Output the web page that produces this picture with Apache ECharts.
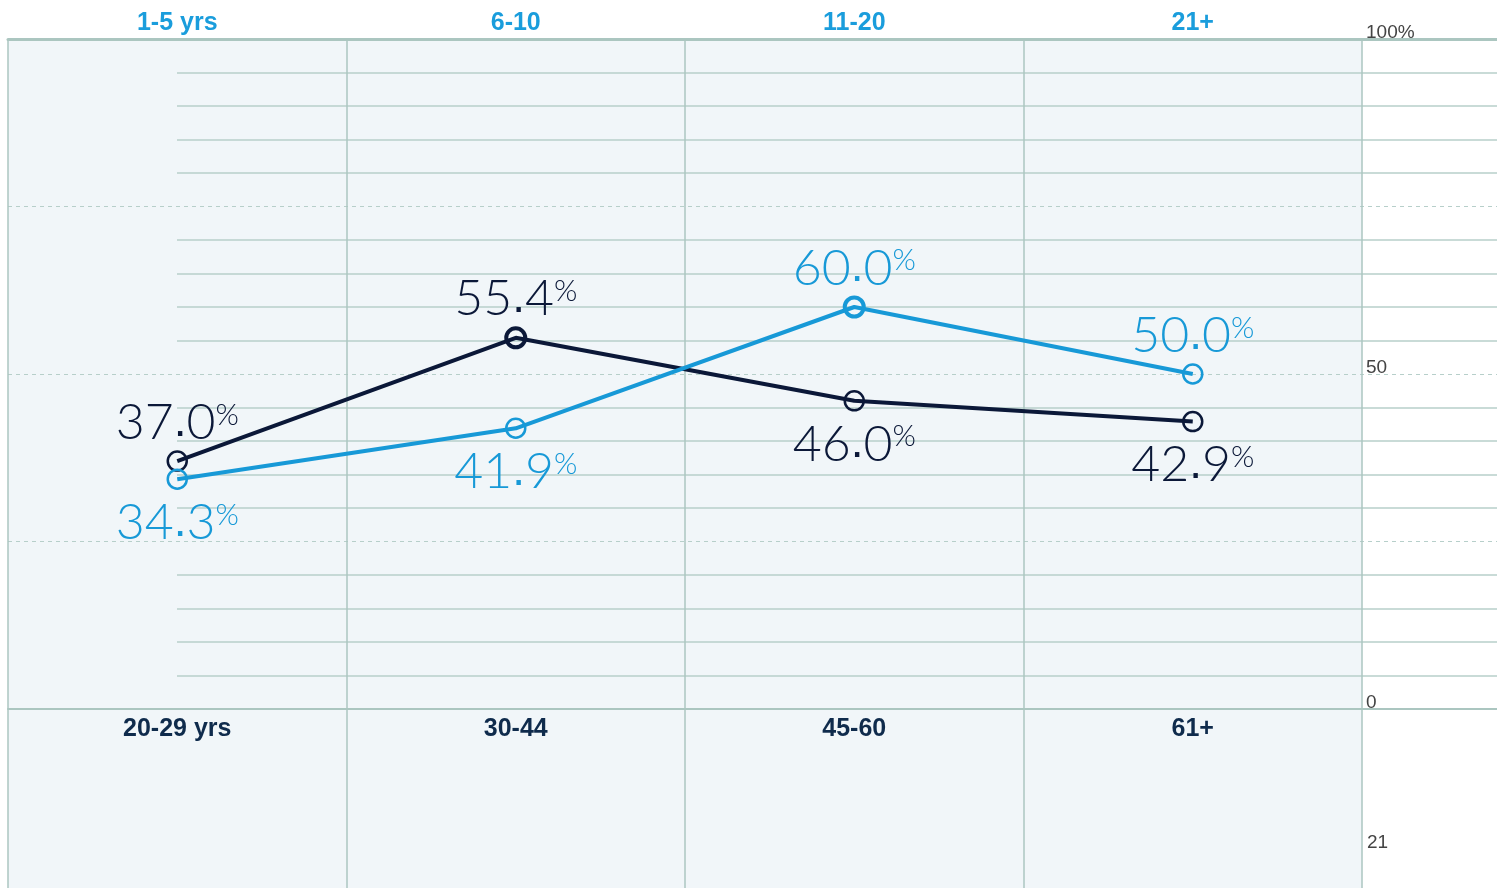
<!DOCTYPE html>
<html>
<head>
<meta charset="utf-8">
<script src="https://cdn.jsdelivr.net/npm/echarts@6/dist/echarts.min.js"></script>
<style>
  html, body { margin: 0; padding: 0; background: #ffffff; }
  #chart { width: 1497px; height: 888px; }
</style>
</head>
<body>
<div id="chart"></div>
<script>
// Categories along the bottom (age) and top (years of tenure)
const ageGroups = ['20-29 yrs', '30-44', '45-60', '61+'];
const tenureGroups = ['1-5 yrs', '6-10', '11-20', '21+'];

// Series values, in percent
const navyValues = [37.0, 55.4, 46.0, 42.9];
const blueValues = [34.3, 41.9, 60.0, 50.0];

// Value-axis tick labels and the lower panel's tick label
const valueTickLabels = { 0: '0', 50: '50', 100: '100%' };
const lowerTickLabels = ['21'];

const NAVY = '#0b1838';
const BLUE = '#1799d7';
const GRID_LINE = '#b7cfca';
const FRAME_LINE = '#abc6c0';
const PANEL_BG = '#f1f6f9';

const LABEL_FONT = 'Lato';

// Labels go above the point when this series is the higher one, below otherwise;
// each series' peak gets a heavier ring.
function buildPoints(values, others) {
  const peak = Math.max(...values);
  return values.map((v, i) => {
    const above = v > others[i];
    return {
      value: v,
      label: { position: above ? 'top' : 'bottom', distance: above ? 4 : 10 },
      itemStyle: { borderWidth: v === peak ? 4 : 2.5 }
    };
  });
}

// "55.4%" -> whole part, square decimal point, fraction, small raised percent sign
function valueLabel(v) {
  const parts = v.toFixed(1).split('.');
  return '{n|' + parts[0] + '}{d|.}{n|' + parts[1] + '}{p|%}';
}

function seriesFor(name, values, others, color) {
  return {
    name: name,
    type: 'line',
    xAxisIndex: 0,
    yAxisIndex: 0,
    data: buildPoints(values, others),
    symbol: 'circle',
    symbolSize: 19,
    z: 5,
    lineStyle: { color: color, width: 4 },
    itemStyle: { color: 'transparent', borderColor: color },
    label: {
      show: true,
      formatter: p => valueLabel(p.value),
      rich: {
        n: { fontFamily: LABEL_FONT, fontWeight: 300, fontSize: 50, lineHeight: 46, color: color },
        d: { fontFamily: 'Liberation Sans', fontWeight: 'normal', fontSize: 46, lineHeight: 46, color: color },
        p: { fontFamily: LABEL_FONT, fontWeight: 300, fontSize: 30, lineHeight: 30, color: color, verticalAlign: 'top' }
      }
    },
    emphasis: { disabled: true }
  };
}

const chart = echarts.init(document.getElementById('chart'), null, { renderer: 'canvas' });

// Minor lines every 5 points; multiples of 25 are left to the dashed layer
const minorColors = ['transparent', GRID_LINE, GRID_LINE, GRID_LINE, GRID_LINE];
// Dashed quarter lines; 0 and 100 are drawn as solid frame lines instead
const quarterColors = ['transparent', GRID_LINE, GRID_LINE, GRID_LINE, 'transparent'];

chart.setOption({
  animation: false,
  grid: [
    // 0: plotting area
    { left: 8, right: 135, top: 39, bottom: 179 },
    // 1: shaded panel with column dividers running to the page bottom
    { left: 8, right: 135, top: 39, bottom: 0, show: true, backgroundColor: PANEL_BG, borderWidth: 0, z: -1 },
    // 2: minor horizontal rules, starting at the first category
    { left: 177, right: 0, top: 39, bottom: 179 },
    // 3: full-width dashed rules and frame lines
    { left: 8, right: 0, top: 39, bottom: 179 }
  ],
  xAxis: [
    {
      gridIndex: 0, type: 'category', data: ageGroups, position: 'bottom',
      axisLine: { show: false }, axisTick: { show: false }, splitLine: { show: false },
      axisLabel: { margin: 8, fontFamily: 'Liberation Sans', fontWeight: 'bold', fontSize: 25, color: '#0f2b4c' }
    },
    {
      gridIndex: 0, type: 'category', data: tenureGroups, position: 'top',
      axisLine: { show: false }, axisTick: { show: false }, splitLine: { show: false },
      axisLabel: { margin: 3, fontFamily: 'Liberation Sans', fontWeight: 'bold', fontSize: 25, color: '#1a9ddc' }
    },
    {
      gridIndex: 1, type: 'category', data: ageGroups,
      axisLine: { show: false }, axisTick: { show: false }, axisLabel: { show: false },
      splitLine: { show: true, lineStyle: { color: FRAME_LINE, width: 1.5 } }
    },
    {
      gridIndex: 2, type: 'value', min: 0, max: 1, show: false
    },
    {
      gridIndex: 3, type: 'value', min: 0, max: 1, position: 'bottom',
      axisLine: { show: true, lineStyle: { color: FRAME_LINE, width: 2 } },
      axisTick: { show: false }, axisLabel: { show: false }, splitLine: { show: false }
    },
    {
      gridIndex: 3, type: 'value', min: 0, max: 1, position: 'top',
      axisLine: { show: true, lineStyle: { color: FRAME_LINE, width: 3 } },
      axisTick: { show: false }, axisLabel: { show: false }, splitLine: { show: false }
    }
  ],
  yAxis: [
    {
      gridIndex: 0, type: 'value', min: 0, max: 100, interval: 50, position: 'right',
      axisLine: { show: false }, axisTick: { show: false }, splitLine: { show: false },
      axisLabel: {
        margin: 4, align: 'left', verticalAlign: 'bottom', lineHeight: 13,
        fontFamily: 'Liberation Sans', fontSize: 19, color: '#444444',
        formatter: v => valueTickLabels[v] || ''
      }
    },
    {
      gridIndex: 1, type: 'value', show: false
    },
    {
      gridIndex: 2, type: 'value', min: 0, max: 100, interval: 5,
      axisLine: { show: false }, axisTick: { show: false }, axisLabel: { show: false },
      splitLine: { show: true, lineStyle: { color: minorColors, width: 1.5 } }
    },
    {
      gridIndex: 3, type: 'value', min: 0, max: 100, interval: 25,
      axisLine: { show: false }, axisTick: { show: false }, axisLabel: { show: false },
      splitLine: { show: true, lineStyle: { color: quarterColors, width: 1, type: [4, 4] } }
    }
  ],
  graphic: lowerTickLabels.map(t => ({
    type: 'text',
    left: 1367,
    top: 833,
    style: { text: t, fontFamily: 'Liberation Sans', fontSize: 19, fill: '#444444' }
  })),
  series: [
    seriesFor('Navy', navyValues, blueValues, NAVY),
    seriesFor('Blue', blueValues, navyValues, BLUE)
  ]
});
</script>
</body>
</html>
